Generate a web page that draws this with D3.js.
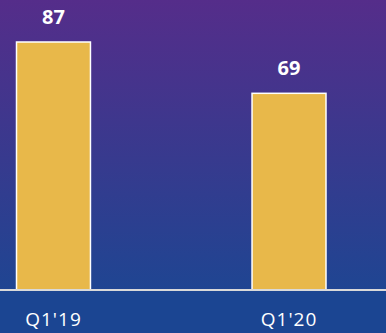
<!DOCTYPE html>
<html>
<head>
<meta charset="utf-8">
<script src="https://cdn.jsdelivr.net/npm/d3@7"></script>
<style>
  html, body { margin: 0; padding: 0; background: #1b4592; }
  svg { display: block; }
</style>
</head>
<body>
<div id="chart"></div>
<script>
"use strict"

/* chart data */
let quarters = ["Q1'19", "Q1'20"];
let counts = [87, 69];

let width = 386;
let height = 333;
let baseY = 290;

let svg = d3.select("#chart")
    .append("svg")
    .attr("width", width)
    .attr("height", height);

/* background gradient, purple at top to blue at the baseline */
let grad = svg.append("defs")
    .append("linearGradient")
    .attr("id", "bg")
    .attr("x1", 0).attr("y1", 0)
    .attr("x2", 0).attr("y2", 1);
grad.append("stop").attr("offset", "0%").attr("stop-color", "#552d8a");
grad.append("stop").attr("offset", "55%").attr("stop-color", "#373a8e");
grad.append("stop").attr("offset", "100%").attr("stop-color", "#1f4592");

svg.append("rect")
    .attr("width", width)
    .attr("height", baseY)
    .attr("fill", "url(#bg)");

svg.append("rect")
    .attr("y", baseY)
    .attr("width", width)
    .attr("height", height - baseY)
    .attr("fill", "#1b4592");

/* scales */
let x = d3.scaleBand()
    .domain(quarters)
    .range([16.5, 326])
    .paddingInner(0.686)
    .paddingOuter(0);

let y = d3.scaleLinear()
    .domain([0, 87])
    .range([baseY, 42]);

/* bars */
svg.selectAll(".bar")
    .data(quarters)
    .enter()
    .append("rect")
    .attr("class", "bar")
    .attr("x", d => x(d))
    .attr("y", (d, i) => y(counts[i]))
    .attr("width", x.bandwidth())
    .attr("height", (d, i) => baseY - y(counts[i]))
    .attr("fill", "#e8b84a")
    .attr("stroke", "#ffffff")
    .attr("stroke-width", 1.5);

/* value labels */
svg.selectAll(".val")
    .data(quarters)
    .enter()
    .append("text")
    .attr("class", "val")
    .attr("x", d => x(d) + x.bandwidth() / 2)
    .attr("y", (d, i) => y(counts[i]) - 18)
    .attr("text-anchor", "middle")
    .attr("font-family", "'Open Sans', sans-serif")
    .attr("font-weight", "bold")
    .attr("font-size", 20)
    .attr("fill", "#ffffff")
    .text((d, i) => counts[i]);

/* baseline */
svg.append("line")
    .attr("x1", 0)
    .attr("x2", width)
    .attr("y1", baseY)
    .attr("y2", baseY)
    .attr("stroke", "#d9d9d9")
    .attr("stroke-width", 2);

/* category axis */
let axis = svg.append("g")
    .attr("transform", "translate(0," + baseY + ")")
    .call(d3.axisBottom(x).tickSize(0).tickPadding(23));

axis.select(".domain").remove();
axis.selectAll("text")
    .attr("font-family", "'Open Sans', sans-serif")
    .attr("font-size", 19)
    .attr("letter-spacing", 1)
    .attr("fill", "#ffffff");
</script>
</body>
</html>
